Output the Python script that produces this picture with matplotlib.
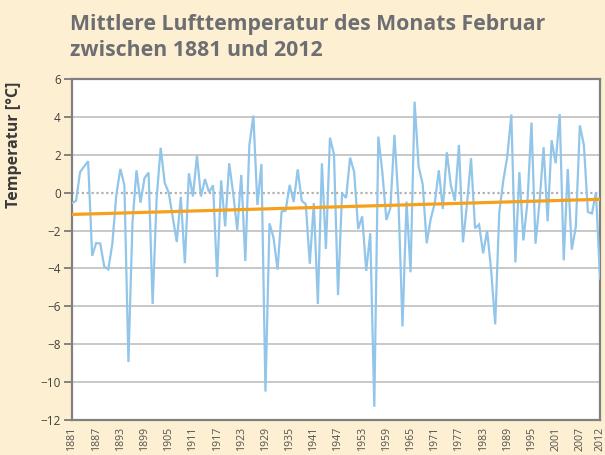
import matplotlib
matplotlib.use("Agg")
import matplotlib.pyplot as plt
import numpy as np

years = list(range(1881, 2013))
temps = [
    -0.55, -0.43, 1.08, 1.38, 1.66, -3.33, -2.66, -2.68, -3.90, -4.05,
    -2.71, -0.10, 1.25, 0.39, -8.94, -1.60, 1.18, -0.53, 0.77, 1.06,
    -5.88, -0.30, 2.37, 0.52, 0.00, -1.30, -2.60, -0.22, -3.72, 1.02,
    -0.20, 1.95, -0.20, 0.72, 0.02, 0.39, -4.45, 0.65, -1.78, 1.55,
    -0.05, -1.99, 0.94, -3.61, 2.50, 4.07, -0.65, 1.51, -10.50, -1.62,
    -2.38, -4.06, -1.00, -0.95, 0.41, -0.49, 1.23, -0.42, -0.61, -3.75,
    -0.55, -5.88, 1.55, -2.97, 2.90, 2.03, -5.41, -0.03, -0.28, 1.85,
    1.10, -1.92, -1.25, -4.13, -2.14, -11.30, 2.96, 1.07, -1.44, -0.80,
    3.05, -0.45, -7.06, -0.47, -4.20, 4.80, 1.38, 0.45, -2.67, -1.39,
    -0.55, 1.18, -0.86, 2.13, 0.37, -0.43, 2.52, -2.62, -0.60, 1.82,
    -1.88, -1.68, -3.20, -2.01, -4.12, -6.95, -1.06, 0.63, 1.91, 4.12,
    -3.68, 1.08, -2.52, -0.50, 3.70, -2.69, -0.50, 2.40, -1.51, 2.77,
    1.55, 4.15, -3.57, 1.25, -3.01, -1.80, 3.55, 2.52, -1.02, -1.10,
    0.02, -4.53,
]
trend_years = [1881, 2012]
trend_values = [-1.15, -0.35]
tick_years = list(range(1881, 2012, 6)) + [2012]
y_ticks = list(range(-12, 7, 2))

title_text = "Mittlere Lufttemperatur des Monats Februar\nzwischen 1881 und 2012"
ylabel_text = "Temperatur [°C]"

BG = "#FDEFD2"
FONT = ["Open Sans", "DejaVu Sans"]

fig = plt.figure(figsize=(6.05, 4.55), dpi=100)
fig.patch.set_facecolor(BG)
ax = fig.add_axes([72 / 605, 35 / 455, 528 / 605, 341 / 455])
ax.set_facecolor("white")

for yv in y_ticks:
    if yv not in (y_ticks[0], y_ticks[-1], 0):
        ax.axhline(yv, color="#c8c8c8", lw=1.4, zorder=1)
ax.axhline(0, color="#b0b0b0", lw=1.6, ls=(0, (1, 1.2)), zorder=1)

ax.plot(years, temps, color="#92C5EA", lw=1.6, zorder=3, solid_joinstyle="miter")
ax.plot(trend_years, trend_values, color="#F5A11C", lw=2.3, zorder=4)

ax.set_xlim(years[0], years[-1])
ax.set_ylim(y_ticks[0], y_ticks[-1])
ax.set_yticks(y_ticks)
ax.set_xticks(tick_years)
ax.set_xticklabels([str(y) for y in tick_years], rotation=90, fontsize=7.6,
                   color="#505050", family=FONT)
for lab in ax.get_yticklabels():
    lab.set_family(FONT)
ax.tick_params(axis="y", direction="out", length=6, width=1.2, colors="#707070",
               labelsize=8.5, labelcolor="#404040", pad=2)
ax.tick_params(axis="x", length=0, pad=5)
for sp in ax.spines.values():
    sp.set_color("#808080")
    sp.set_linewidth(1.6)

yl = fig.text(14 / 605, 1 - 145 / 455, ylabel_text, rotation=90, ha="center", va="center",
              fontsize=10, fontweight="bold", color="#3a3a3a", family=FONT)

t = fig.text(70 / 605, 1 - 14 / 455, title_text, ha="left", va="top",
             fontsize=16, fontweight="bold", color="#6D6E71", family=FONT,
             linespacing=1.3)
fig.canvas.draw()
r = fig.canvas.get_renderer()
w = t.get_window_extent(r).width
t.set_fontsize(16 * 475 / w)
h = yl.get_window_extent(r).height
yl.set_fontsize(10 * 126 / h)

fig.savefig("out.png", dpi=100, facecolor=BG)
